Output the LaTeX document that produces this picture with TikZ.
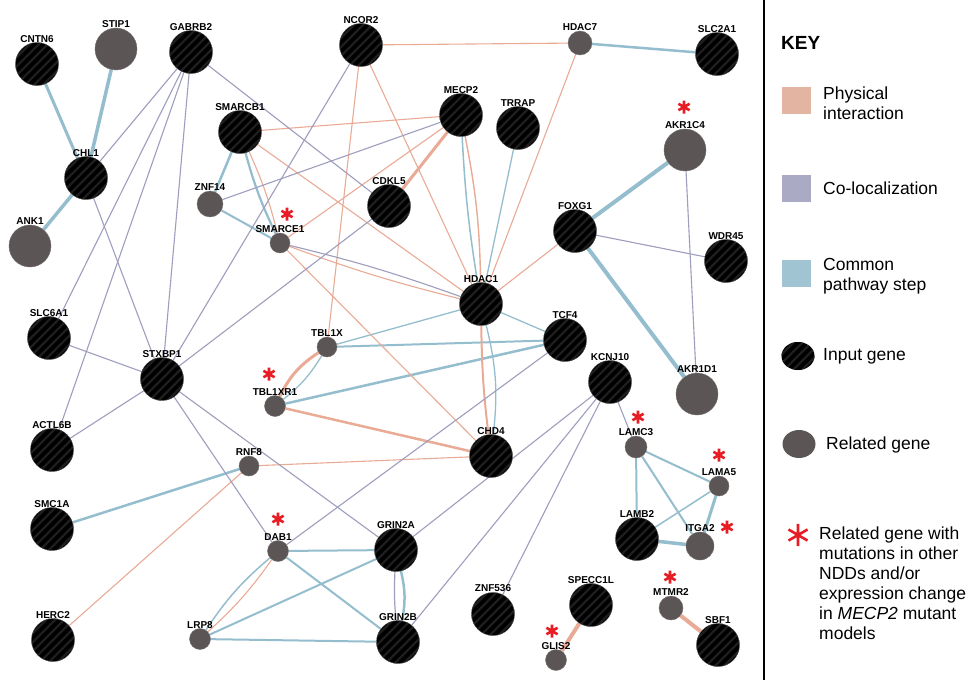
\documentclass[tikz,border=0pt]{standalone}
\usepackage{fontspec}
\setmainfont{Liberation Sans}
\setsansfont{Liberation Sans}
\usetikzlibrary{shapes.geometric,backgrounds}
\definecolor{physc}{RGB}{233,170,150}
\definecolor{colc}{RGB}{158,158,190}
\definecolor{pwc}{RGB}{148,190,206}
\definecolor{relc}{RGB}{91,85,85}
\definecolor{stripe}{RGB}{30,30,30}
\definecolor{astc}{RGB}{232,28,36}
\definecolor{kphys}{RGB}{228,180,162}
\definecolor{kcol}{RGB}{170,170,196}
\definecolor{kpw}{RGB}{160,196,210}
\tikzset{
  stripes/.style={path picture={
    \foreach \d in {-45,-36,...,45}
      \draw[stripe, line width=2.4pt] ([xshift=\d pt]path picture bounding box.center) ++(-30,30) -- ++(60,-60);}},
  inp/.style={circle, inner sep=0pt, minimum size=43pt, fill=black, draw=black!70, line width=0.4pt,
    stripes, label distance=1.5pt},
  rel/.style={circle, inner sep=0pt, minimum size=#1, fill=relc, draw=relc!85!white, line width=0.4pt,
    label distance=1.5pt},
  rel/.default=42pt,
  lab/.style={font=\bfseries\fontsize{10}{12}\selectfont, inner sep=0pt},
  phys/.style={draw=physc, line width=1.1pt},
  coloc/.style={draw=colc, line width=1.1pt},
  pw/.style={draw=pwc, line width=1.3pt},
  ktext/.style={font=\fontsize{17.5}{20}\selectfont, align=left, inner sep=0pt, anchor=west},
  ksq/.style={rectangle, inner sep=0pt, minimum width=29pt, minimum height=27pt},
  redast/.pic={\draw[astc, line width=2.6pt] (0,-6.5)--(0,6.5) (-5.6,-3.25)--(5.6,3.25) (-5.6,3.25)--(5.6,-3.25);}
}
\begin{document}
\begin{tikzpicture}[x=1pt,y=-1pt]
\useasboundingbox (0,0) rectangle (972,680);
% nodes
\node[inp, label={[lab]above:CNTN6}] (CNTN6) at (37,64) {};
\node[rel, label={[lab]above:STIP1}] (STIP1) at (116,49) {};
\node[inp, label={[lab]above:GABRB2}] (GABRB2) at (191,52) {};
\node[inp, label={[lab]above:CHL1}] (CHL1) at (86,178) {};
\node[rel, label={[lab]above:ANK1}] (ANK1) at (30,246) {};
\node[inp, label={[lab]above:SMARCB1}] (SMARCB1) at (240,132) {};
\node[rel=26pt, label={[lab]above:ZNF14}] (ZNF14) at (210,204) {};
\node[rel=20pt, label={[lab]above:SMARCE1}] (SMARCE1) at (280,243) {};
\node[inp, label={[lab]above:CDKL5}] (CDKL5) at (389,206) {};
\node[inp, label={[lab]above:NCOR2}] (NCOR2) at (361,45) {};
\node[inp, label={[lab]above:MECP2}] (MECP2) at (461,115) {};
\node[inp, label={[lab]above:TRRAP}] (TRRAP) at (518,128) {};
\node[rel=24pt, label={[lab]above:HDAC7}] (HDAC7) at (580,43) {};
\node[inp, label={[lab]above:SLC2A1}] (SLC2A1) at (717,54) {};
\node[rel, label={[lab]above:AKR1C4}] (AKR1C4) at (685,150) {};
\node[inp, label={[lab]above:FOXG1}] (FOXG1) at (575,231) {};
\node[inp, label={[lab]above:WDR45}] (WDR45) at (726,261) {};
\node[inp, label={[lab]above:HDAC1}] (HDAC1) at (481,304) {};
\node[inp, label={[lab]above:TCF4}] (TCF4) at (565,340) {};
\node[inp, label={[lab]above:KCNJ10}] (KCNJ10) at (610,382) {};
\node[rel, label={[lab]above:AKR1D1}] (AKR1D1) at (697,394) {};
\node[rel=20pt, label={[lab]above:TBL1X}] (TBL1X) at (327,347) {};
\node[rel=21pt, label={[lab]above:TBL1XR1}] (TBL1XR1) at (275,406) {};
\node[inp, label={[lab]above:CHD4}] (CHD4) at (491,456) {};
\node[rel=20pt, label={[lab]above:RNF8}] (RNF8) at (249,466) {};
\node[inp, label={[lab]above:SLC6A1}] (SLC6A1) at (49,338) {};
\node[inp, label={[lab]above:STXBP1}] (STXBP1) at (162,379) {};
\node[inp, label={[lab]above:ACTL6B}] (ACTL6B) at (52,450) {};
\node[inp, label={[lab]above:SMC1A}] (SMC1A) at (52,529) {};
\node[inp, label={[lab]above:HERC2}] (HERC2) at (53,640) {};
\node[rel=21pt, label={[lab]above:DAB1}] (DAB1) at (278,551) {};
\node[rel=21pt, label={[lab]above:LRP8}] (LRP8) at (200,639) {};
\node[inp, label={[lab]above:GRIN2A}] (GRIN2A) at (396,550) {};
\node[inp, label={[lab]above:GRIN2B}] (GRIN2B) at (398,642) {};
\node[inp, label={[lab]above:ZNF536}] (ZNF536) at (493,614) {};
\node[inp, label={[lab]above:SPECC1L}] (SPECC1L) at (591,605) {};
\node[rel=21pt, label={[lab]above:GLIS2}] (GLIS2) at (556,660) {};
\node[rel=24pt, label={[lab]above:MTMR2}] (MTMR2) at (671,608) {};
\node[inp, label={[lab]above:SBF1}] (SBF1) at (718,645) {};
\node[rel=22pt, label={[lab]above:LAMC3}] (LAMC3) at (636,447) {};
\node[rel=20pt, label={[lab]above:LAMA5}] (LAMA5) at (719,486) {};
\node[inp, label={[lab]above:LAMB2}] (LAMB2) at (637,539) {};
\node[rel=28pt, label={[lab]above:ITGA2}] (ITGA2) at (700,546) {};
% asterisks
\pic at (287,214) {redast};
\pic at (684,107) {redast};
\pic at (269,374) {redast};
\pic at (638,417) {redast};
\pic at (719,455) {redast};
\pic at (727,527) {redast};
\pic at (278,519) {redast};
\pic at (670,577) {redast};
\pic at (552,631) {redast};
% edges
\begin{scope}[on background layer]
\fill[white] (0,0) rectangle (972,680);
% pathway
\draw[pw, line width=3pt] (CNTN6) -- (CHL1);
\draw[pw, line width=3.5pt] (STIP1) -- (CHL1);
\draw[pw, line width=3.5pt] (CHL1) -- (ANK1);
\draw[pw, line width=2.5pt] (SMARCB1) -- (ZNF14);
\draw[pw, line width=2.2pt] (SMARCB1) to[bend right=5] (SMARCE1);
\draw[pw, line width=2pt] (ZNF14) -- (SMARCE1);
\draw[pw, line width=2.5pt] (HDAC7) -- (SLC2A1);
\draw[pw, line width=1.5pt] (MECP2) to[bend right=3] (HDAC1);
\draw[pw] (TRRAP) -- (HDAC1);
\draw[pw] (HDAC1) -- (TCF4);
\draw[pw] (HDAC1) -- (TBL1X);
\draw[pw] (HDAC1) to[bend left=10] (CHD4);
\draw[pw, line width=2pt] (TBL1X) -- (TCF4);
\draw[pw, line width=2.5pt] (TBL1XR1) -- (TCF4);
\draw[pw] (TBL1XR1) to[bend right=10] (TBL1X);
\draw[pw, line width=4pt] (FOXG1) -- (AKR1C4);
\draw[pw, line width=4pt] (FOXG1) -- (AKR1D1);
\draw[pw, line width=2.5pt] (SMC1A) -- (RNF8);
\draw[pw, line width=1.5pt] (DAB1) to[bend right=8] (LRP8);
\draw[pw, line width=2pt] (DAB1) -- (GRIN2A);
\draw[pw, line width=2pt] (DAB1) -- (GRIN2B);
\draw[pw, line width=2pt] (LRP8) -- (GRIN2A);
\draw[pw, line width=2pt] (LRP8) -- (GRIN2B);
\draw[pw, line width=2.5pt] (GRIN2A) to[bend left=12] (GRIN2B);
\draw[pw, line width=2pt] (LAMC3) -- (LAMB2);
\draw[pw, line width=2pt] (LAMC3) -- (LAMA5);
\draw[pw, line width=2pt] (LAMC3) -- (ITGA2);
\draw[pw, line width=1.5pt] (LAMB2) -- (LAMA5);
\draw[pw, line width=3.5pt] (LAMB2) -- (ITGA2);
\draw[pw, line width=3pt] (LAMA5) -- (ITGA2);
% physical
\draw[phys] (NCOR2) -- (HDAC7);
\draw[phys] (NCOR2) -- (TBL1X);
\draw[phys] (NCOR2) -- (HDAC1);
\draw[phys] (HDAC7) -- (HDAC1);
\draw[phys] (SMARCB1) -- (MECP2);
\draw[phys] (SMARCB1) to[bend left=5] (SMARCE1);
\draw[phys] (SMARCB1) -- (HDAC1);
\draw[phys] (MECP2) -- (SMARCE1);
\draw[phys, line width=1.4pt] (MECP2) to[bend left=5] (HDAC1);
\draw[phys] (SMARCE1) to[bend right=3] (HDAC1);
\draw[phys] (SMARCE1) -- (CHD4);
\draw[phys] (FOXG1) -- (HDAC1);
\draw[phys] (RNF8) -- (CHD4);
\draw[phys] (RNF8) -- (HERC2);
\draw[phys] (DAB1) to[bend left=6] (LRP8);
\draw[phys, line width=3pt] (MECP2) -- (CDKL5);
\draw[phys, line width=2.5pt] (TBL1XR1) -- (CHD4);
\draw[phys, line width=3pt] (TBL1XR1) to[bend left=15] (TBL1X);
\draw[phys, line width=2pt] (HDAC1) to[bend right=3] (CHD4);
\draw[phys, line width=4pt] (SPECC1L) -- (GLIS2);
\draw[phys, line width=4pt] (MTMR2) -- (SBF1);
% co-localization
\draw[coloc] (GABRB2) -- (CHL1);
\draw[coloc] (GABRB2) -- (SLC6A1);
\draw[coloc] (GABRB2) -- (ACTL6B);
\draw[coloc] (GABRB2) -- (STXBP1);
\draw[coloc] (GABRB2) -- (CDKL5);
\draw[coloc] (CHL1) -- (STXBP1);
\draw[coloc] (NCOR2) -- (STXBP1);
\draw[coloc] (STXBP1) -- (CDKL5);
\draw[coloc] (STXBP1) -- (SLC6A1);
\draw[coloc] (STXBP1) -- (ACTL6B);
\draw[coloc] (STXBP1) -- (DAB1);
\draw[coloc] (STXBP1) -- (GRIN2A);
\draw[coloc] (MECP2) -- (ZNF14);
\draw[coloc] (SMARCE1) to[bend left=3] (HDAC1);
\draw[coloc] (DAB1) -- (TCF4);
\draw[coloc] (KCNJ10) -- (GRIN2A);
\draw[coloc] (KCNJ10) -- (GRIN2B);
\draw[coloc] (KCNJ10) -- (ZNF536);
\draw[coloc] (KCNJ10) -- (LAMC3);
\draw[coloc] (FOXG1) -- (WDR45);
\draw[coloc] (AKR1C4) -- (AKR1D1);
\draw[coloc, line width=1.2pt] (GRIN2A) to[bend right=4] (GRIN2B);
\end{scope}
% separator
\draw[line width=2.5pt] (764,0) -- (764,680);
% key
\node[anchor=west, inner sep=0pt, font=\bfseries\fontsize{19}{22}\selectfont] (keyt) at (781,43) {KEY};
\node[ksq, fill=kphys] (k1) at (796,100) {};
\node[ktext] (t1) at (823,103) {Physical\\interaction};
\node[ksq, fill=kcol] (k2) at (796,188) {};
\node[ktext] (t2) at (823,188) {Co-localization};
\node[ksq, fill=kpw] (k3) at (796,273) {};
\node[ktext] (t3) at (823,276) {Common\\pathway step};
\node[ellipse, inner sep=0pt, minimum width=33pt, minimum height=28pt, fill=black, stripes] (k4) at (798,356) {};
\node[ktext] (t4) at (823,356) {Input gene};
\node[ellipse, inner sep=0pt, minimum width=33pt, minimum height=28pt, fill=relc] (k5) at (799,444) {};
\node[ktext] (t5) at (826,445) {Related gene};
\pic[scale=1.7] at (798,535) {redast};
\node[ktext] (t6) at (819,583) {Related gene with\\mutations in other\\NDDs and/or\\expression change\\in \textit{MECP2} mutant\\models};
\end{tikzpicture}
\end{document}
